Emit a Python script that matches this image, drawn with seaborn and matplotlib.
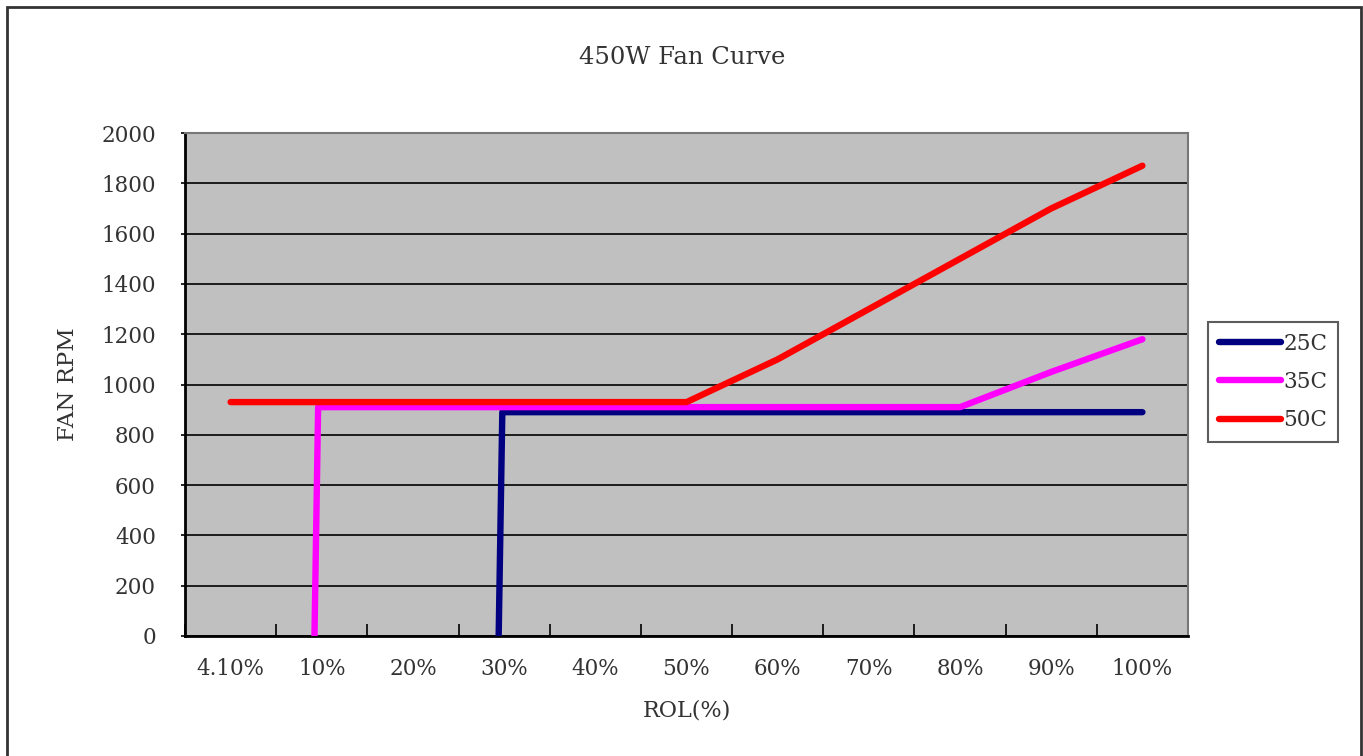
import matplotlib
matplotlib.use('Agg')
import matplotlib.pyplot as plt
from matplotlib.patches import Rectangle
import seaborn as sns
import pandas as pd

# category labels on the x axis (plotted at index positions 0..10)
categories = ['4.10%', '10%', '20%', '30%', '40%', '50%', '60%', '70%', '80%', '90%', '100%']

# each curve: x as category index, y as fan rpm
x_25c = [2.94, 2.98, 10]
rpm_25c = [0, 890, 890]

x_35c = [0.92, 0.96, 8, 9, 10]
rpm_35c = [0, 910, 910, 1050, 1180]

x_50c = [0, 5, 6, 7, 8, 9, 10]
rpm_50c = [930, 930, 1100, 1300, 1500, 1700, 1870]

series_names = ['25C', '35C', '50C']
colors = ['#000080', '#FF00FF', '#FF0000']

frames = []
for name, xs, ys in zip(series_names, [x_25c, x_35c, x_50c], [rpm_25c, rpm_35c, rpm_50c]):
    frames.append(pd.DataFrame({'pos': xs, 'rpm': ys, 'series': name}))
df = pd.concat(frames, ignore_index=True)

plt.rcParams['font.family'] = ['DejaVu Serif']
fs = 15.5
txt = '#333333'

fig = plt.figure(figsize=(13.63, 7.56), dpi=100)
ax = fig.add_axes([185 / 1363, 1 - 636 / 756, (1188 - 185) / 1363, (636 - 133) / 756])
ax.set_facecolor('#C0C0C0')

sns.lineplot(data=df, x='pos', y='rpm', hue='series', hue_order=series_names,
             palette=colors, sort=False, estimator=None, linewidth=4.6,
             solid_capstyle='round', ax=ax, zorder=3)

ax.set_xlim(-0.5, 10.5)
ax.set_ylim(0, 2000)
ax.set_yticks(range(0, 2001, 200))
ax.yaxis.grid(True, color='black', linewidth=1.2)
ax.set_axisbelow(True)

ax.set_xticks(range(len(categories)))
ax.set_xticklabels(categories)
ax.set_xticks([i + 0.5 for i in range(-1, len(categories))], minor=True)
ax.tick_params(axis='x', which='major', length=0, pad=16, labelsize=fs, labelcolor=txt)
ax.tick_params(axis='x', which='minor', direction='in', length=9, width=1.2, color='black')
ax.tick_params(axis='y', which='major', direction='out', length=3, width=1.2, pad=18,
               labelsize=fs, labelcolor=txt, color='black')

for side in ['left', 'bottom']:
    ax.spines[side].set_color('black')
    ax.spines[side].set_linewidth(2)
for side in ['top', 'right']:
    ax.spines[side].set_color('#777777')
    ax.spines[side].set_linewidth(1.5)

ax.set_xlabel('ROL(%)', fontsize=16, labelpad=14, color=txt)
ax.set_ylabel('FAN RPM', fontsize=16.5, labelpad=16, color=txt)
fig.text(682 / 1363, 1 - 57 / 756, '450W Fan Curve', ha='center', va='center',
         fontsize=17.5, color=txt)

handles, labels = ax.get_legend_handles_labels()
ax.legend_.remove()
leg = fig.legend(handles, labels, loc='upper left',
                 bbox_to_anchor=(1208 / 1363, 1 - 322 / 756),
                 fontsize=fs, frameon=True, fancybox=False, handlelength=2.9,
                 handletextpad=0.1, borderpad=0.5, labelspacing=0.75,
                 borderaxespad=0)
for t in leg.get_texts():
    t.set_color(txt)
leg.get_frame().set_edgecolor('#333333')
leg.get_frame().set_linewidth(1.5)
for line in leg.get_lines():
    line.set_linewidth(4.6)
    line.set_solid_capstyle('round')

fig.patches.append(Rectangle((7 / 1363, -0.02), (1361 - 7) / 1363, 1.02 - 7 / 756,
                             transform=fig.transFigure, fill=False,
                             edgecolor='#333333', linewidth=2))

plt.savefig('out.png', dpi=100)
plt.close()
